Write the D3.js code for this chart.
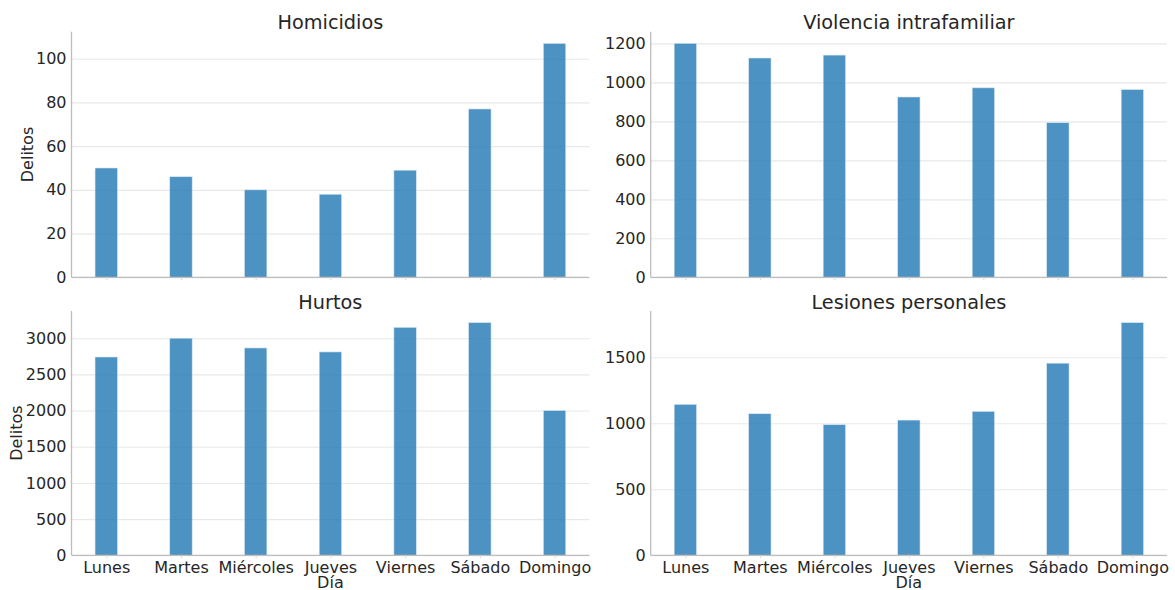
<!DOCTYPE html>
<html>
<head>
<meta charset="utf-8">
<script src="https://cdn.jsdelivr.net/npm/d3@7"></script>
<style>
  html, body { margin: 0; padding: 0; background: #ffffff; }
  svg { display: block; font-family: "DejaVu Sans", sans-serif; }
</style>
</head>
<body>
<svg id="chart" width="1175" height="590"></svg>
<script>
// Days of the week (x categories)
const dias = ["Lunes", "Martes", "Miércoles", "Jueves", "Viernes", "Sábado", "Domingo"];

// Crimes per weekday
const homicidios = [50, 46, 40, 38, 49, 77, 107];
const violenciaIntrafamiliar = [1200, 1125, 1140, 925, 972, 793, 963];
const hurtos = [2740, 3000, 2865, 2810, 3150, 3215, 2000];
const lesionesPersonales = [1143, 1072, 989, 1024, 1090, 1455, 1762];

// Y tick values per panel
const ticksHomicidios = [0, 20, 40, 60, 80, 100];
const ticksViolencia = [0, 200, 400, 600, 800, 1000, 1200];
const ticksHurtos = [0, 500, 1000, 1500, 2000, 2500, 3000];
const ticksLesiones = [0, 500, 1000, 1500];

const svg = d3.select("#chart");
const textColor = "#262626";
const spineColor = "#bdbdbd";
const gridColor = "#e8e8e8";
const barColor = "#1f77b4";
const barWidth = 0.3;

const panels = [
  { title: "Homicidios", values: homicidios, ticks: ticksHomicidios,
    x0: 71.5, x1: 589.3, yTop: 31.7, yBottom: 277.3, ylabel: true, ylabelX: 27, xlabels: false },
  { title: "Violencia intrafamiliar", values: violenciaIntrafamiliar, ticks: ticksViolencia,
    x0: 650.7, x1: 1167, yTop: 31.7, yBottom: 277.3, ylabel: false, xlabels: false },
  { title: "Hurtos", values: hurtos, ticks: ticksHurtos,
    x0: 71.5, x1: 589.3, yTop: 311, yBottom: 555.3, ylabel: true, ylabelX: 16, xlabels: true },
  { title: "Lesiones personales", values: lesionesPersonales, ticks: ticksLesiones,
    x0: 650.7, x1: 1167, yTop: 311, yBottom: 555.3, ylabel: false, xlabels: true }
];

panels.forEach(p => {
  const n = dias.length;
  const lo = -barWidth / 2, hi = n - 1 + barWidth / 2;
  const margin = (hi - lo) * 0.05;
  const x = d3.scaleLinear().domain([lo - margin, hi + margin]).range([p.x0, p.x1]);
  const y = d3.scaleLinear().domain([0, d3.max(p.values) * 1.05]).range([p.yBottom, p.yTop]);

  const g = svg.append("g");

  // horizontal grid
  g.append("g")
    .attr("transform", `translate(${p.x0},0)`)
    .call(d3.axisLeft(y).tickValues(p.ticks).tickSize(-(p.x1 - p.x0)).tickFormat(""))
    .call(s => s.select(".domain").remove())
    .call(s => s.selectAll("line").attr("stroke", gridColor).attr("stroke-width", 1.1));

  // bars
  g.append("g").selectAll("rect")
    .data(p.values)
    .join("rect")
    .attr("x", (d, i) => x(i - barWidth / 2))
    .attr("width", (d, i) => x(i + barWidth / 2) - x(i - barWidth / 2))
    .attr("y", d => y(d))
    .attr("height", d => y(0) - y(d))
    .attr("fill", barColor)
    .attr("fill-opacity", 0.8)
    .attr("stroke", "#d6e6f2")
    .attr("stroke-width", 0.6);

  // y axis
  const yAxis = g.append("g")
    .attr("transform", `translate(${p.x0},0)`)
    .call(d3.axisLeft(y).tickValues(p.ticks).tickSize(0).tickPadding(5).tickFormat(d3.format("d")));
  yAxis.select(".domain").attr("stroke", spineColor).attr("stroke-width", 1.3)
    .attr("d", `M0,${p.yBottom}V${p.yTop}`);
  yAxis.selectAll("text").attr("fill", textColor).style("font-size", "16px")
    .style("font-family", "'DejaVu Sans', sans-serif");

  // x axis
  const xAxis = g.append("g")
    .attr("transform", `translate(0,${p.yBottom})`)
    .call(d3.axisBottom(x).tickValues(d3.range(n)).tickSize(3).tickPadding(3)
      .tickFormat(i => p.xlabels ? dias[i] : ""));
  xAxis.select(".domain").attr("stroke", spineColor).attr("stroke-width", 1.3)
    .attr("d", `M${p.x0},0H${p.x1}`);
  xAxis.selectAll(".tick line").attr("stroke", "#d8d8d8");
  xAxis.selectAll("text").attr("fill", textColor).style("font-size", "16px")
    .style("font-family", "'DejaVu Sans', sans-serif");

  // title
  g.append("text")
    .attr("x", (p.x0 + p.x1) / 2)
    .attr("y", p.yTop - 2.3)
    .attr("text-anchor", "middle")
    .attr("fill", textColor)
    .style("font-size", "19.3px")
    .text(p.title);

  // axis labels
  if (p.ylabel) {
    g.append("text")
      .attr("transform", `translate(${p.ylabelX + 5.5},${(p.yTop + p.yBottom) / 2}) rotate(-90)`)
      .attr("text-anchor", "middle")
      .attr("fill", textColor)
      .style("font-size", "16px")
      .text("Delitos");
  }
  if (p.xlabels) {
    g.append("text")
      .attr("x", (p.x0 + p.x1) / 2)
      .attr("y", 587.6)
      .attr("text-anchor", "middle")
      .attr("fill", textColor)
      .style("font-size", "16px")
      .text("Día");
  }
});
</script>
</body>
</html>
